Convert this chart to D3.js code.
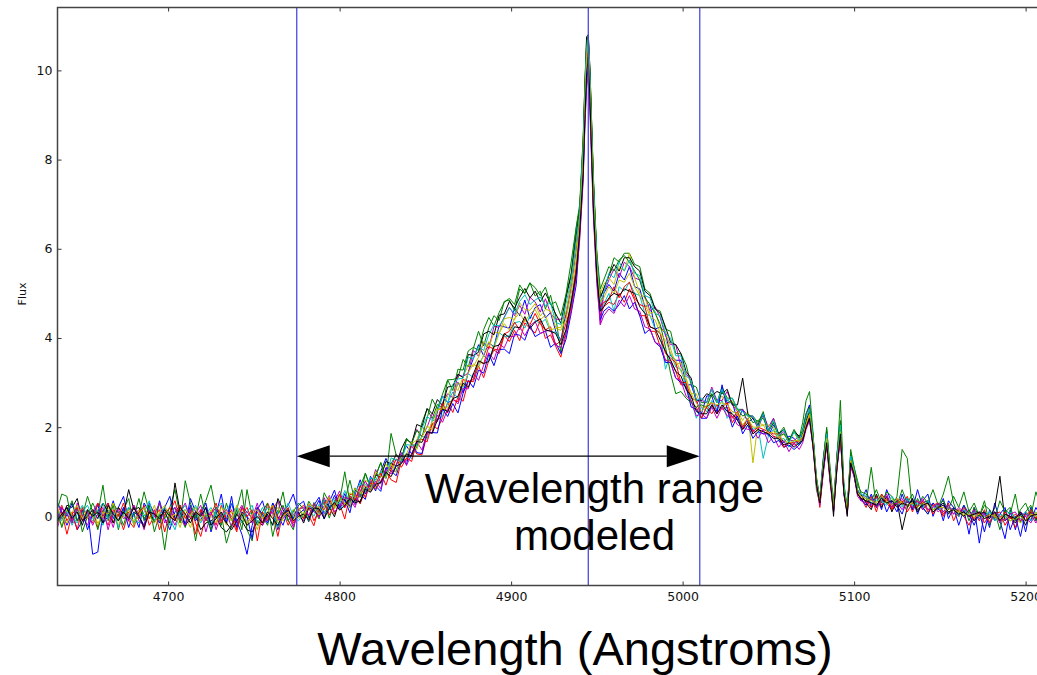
<!DOCTYPE html>
<html>
<head>
<meta charset="utf-8">
<script src="https://cdn.jsdelivr.net/npm/d3@7"></script>
<style>
  html, body { margin: 0; padding: 0; background: #ffffff; }
  svg { display: block; }
</style>
</head>
<body>
<svg id="chart" width="1037" height="675"></svg>
<script>
// Sample wavelengths (Angstroms) shared by every spectrum
const wavelengths = [
  4635,4638,4641,4644,4647,4650,4653,4656,4659,4662,4665,4668,4671,4674,4677,4680,4683,4686,4689,4692,
  4695,4698,4701,4704,4707,4710,4713,4716,4719,4722,4725,4728,4731,4734,4737,4740,4743,4746,4749,4752,
  4755,4758,4761,4764,4767,4770,4773,4776,
  4779,4782,4785,4788,4791,4794,4797,4800,4803,4806,4809,4812,4815,4818,4821,4824,4827,4830,4833,4836,
  4839,4842,4845,4848,4851,4854,4857,4860,4863,4866,4869,4872,4875,4878,4881,4884,4887,4890,4893,4896,
  4899,4902,4905,4908,4911,4914,4917,4920,4923,4926,4929,4932,4935,4938,
  4940,4942,4943,4944,4945,4946,4948,4950,4952,4954,
  4957,4960,4963,4966,4969,4972,4975,4978,4981,4984,4987,4990,4993,4996,4999,5002,5005,5008,5011,5014,
  5017,5020,5023,5026,5029,5032,5035,5038,5041,5044,5047,5050,5053,5056,5059,5062,5065,5068,
  5070,5072,5074,5076,5078,5080,5082,5084,5086,5088,5090,5092,5094,5096,5098,5100,5102,5104,
  5107,5110,5113,5116,5119,5122,5125,5128,5131,5134,5137,5140,5143,5146,5149,5152,5155,5158,5161,5164,
  5167,5170,5173,5176,5179,5182,5185,5188,5191,5194,5197,5200,5203,5206,5209
];

// Individual flux spectra
const flux0 = [
  0.35,0.1,-0.2,0.05,-0.3,-0.1,0.15,-0.85,-0.8,0.1,0.3,-0.05,0.2,0.45,-0.1,0.05,-0.25,0.3,0.1,-0.15,0.35,-0.05,-0.3,0.1,0.25,-0.2,0.4,0.1,-0.1,0.2,-0.35,0.05,0.5,-0.15,0.3,-0.1,-0.4,-0.85,-0.2,0.15,0.35,-0.05,0.2,-0.3,0.1,0.25,0.5,0.05,
  0.15,-0.12,0.25,0.43,0.06,0.19,0.47,0.21,0.51,0.22,0.49,0.82,0.5,0.78,0.57,1.01,1.3,1.05,1.0,1.36,1.58,1.4,1.68,2.02,1.87,1.88,2.34,2.7,2.55,2.6,3.01,2.77,3.23,3.54,3.85,3.6,3.9,3.8,4.28,4.25,4.22,4.67,4.5,4.85,4.43,4.68,4.75,4.45,4.57,4.15,3.95,4.55,5.15,6.0,
  6.7,8.1,9.3,10.2,10.5,9.7,7.3,5.7,4.6,5.0,
  5.2,5.05,5.45,5.3,5.6,5.15,5.1,4.7,4.75,4.2,4.25,4.1,3.6,3.5,3.5,2.95,2.95,2.6,2.3,2.7,2.7,2.35,2.85,2.55,2.55,2.15,2.4,2.1,2.2,2.0,2.3,1.8,2.05,1.85,1.65,1.8,1.75,1.6,
  1.9,2.3,2.5,1.8,0.7,0.4,1.3,1.9,0.8,0.25,1.4,2.1,0.5,0.1,1.4,0.9,0.6,0.35,
  0.6,0.2,0.45,0.15,0.6,0.3,0.1,0.5,0.2,0.4,0.05,0.35,0.5,0.0,0.3,-0.1,0.35,0.2,-0.2,0.15,-0.4,0.2,-0.6,0.1,-0.25,0.3,-0.1,-0.5,0.15,-0.3,0.1,-0.35,0.2,-0.1,0.15
];
const flux1 = [
  0.1,0.5,0.45,-0.15,0.2,-0.35,0.0,0.3,0.05,0.7,-0.1,0.25,-0.3,0.15,0.4,-0.2,0.05,0.55,0.1,-0.15,0.3,-0.05,0.2,0.6,0.0,-0.25,0.15,-0.55,0.1,0.35,0.7,0.1,-0.2,0.3,-0.1,0.15,0.6,-0.3,-0.55,0.2,0.0,-0.2,0.3,0.1,0.55,-0.1,-0.3,0.2,
  -0.04,0.34,0.16,-0.06,0.53,0.31,0.19,0.49,0.34,0.81,0.33,0.67,0.96,0.65,0.9,1.2,0.85,1.86,1.37,1.24,1.72,1.65,1.54,2.1,2.41,2.19,2.51,2.44,3.06,3.07,3.1,3.52,3.35,3.77,4.15,3.82,4.23,4.5,4.39,4.82,4.85,4.61,5.1,5.0,5.24,4.94,5.05,4.65,4.96,4.48,3.67,4.95,5.45,6.48,
  6.9,8.3,9.5,10.5,10.7,9.9,7.5,5.8,4.9,5.1,
  5.4,5.8,5.7,5.9,5.9,5.65,5.6,5.1,5.0,4.65,4.6,4.2,4.15,3.65,3.65,3.4,2.95,2.9,2.55,2.55,2.85,2.55,2.9,2.65,2.65,2.4,2.4,2.25,2.25,2.1,2.35,1.9,2.2,1.85,2.0,1.7,1.95,1.75,
  2.1,2.6,2.8,1.9,0.6,0.3,1.2,2.0,1.0,0.15,1.3,2.6,0.7,0.1,1.5,1.1,0.8,0.5,
  0.3,1.1,0.2,0.5,0.35,0.2,0.45,1.5,1.3,0.15,0.4,0.2,0.05,0.3,0.2,0.5,0.9,0.3,0.0,0.25,-0.1,0.2,0.0,0.35,-0.2,0.1,-0.3,0.15,0.05,0.5,-0.15,0.1,0.25,-0.1,0.3
];
const flux2 = [
  -0.2,0.1,-0.4,0.05,0.2,-0.1,0.0,0.15,-0.25,0.1,0.3,-0.15,0.05,-0.3,0.1,0.2,-0.05,0.25,-0.2,0.0,0.15,-0.35,0.1,0.35,-0.1,0.05,0.2,-0.15,-0.45,0.0,0.1,-0.2,0.25,-0.05,0.15,-0.3,0.05,0.2,-0.1,0.1,-0.15,0.3,0.05,-0.45,0.1,-0.2,0.05,0.15,
  0.25,0.02,-0.21,0.22,0.15,0.42,0.05,0.29,-0.06,0.49,0.5,0.28,0.6,0.83,0.61,0.79,1.02,0.82,0.76,1.26,1.27,1.58,1.4,1.38,1.82,2.06,1.96,2.21,2.55,2.33,2.68,2.58,3.03,3.02,3.37,3.11,3.5,3.73,3.65,4.06,3.92,4.17,3.94,4.34,4.21,4.11,4.39,3.99,4.07,3.81,3.57,4.09,4.7,5.39,
  6.4,7.8,9.0,10.1,10.5,9.4,7.0,5.4,4.5,4.7,
  4.8,4.75,5.0,4.8,5.1,4.85,4.5,4.5,4.15,4.15,3.8,3.5,3.5,3.25,2.95,2.95,2.55,2.45,2.2,2.45,2.3,2.5,2.4,2.45,2.1,2.3,1.95,2.2,1.85,1.95,1.85,1.9,1.8,1.75,1.55,1.65,1.6,1.65,
  1.7,2.0,2.2,1.6,0.75,0.2,1.0,1.6,0.8,0.25,1.1,1.8,0.55,0.2,1.2,0.95,0.5,0.4,
  0.2,0.45,0.1,0.5,0.3,0.15,0.4,0.25,0.45,0.1,0.35,0.15,0.3,0.05,0.25,0.0,0.3,-0.1,0.15,0.0,-0.2,0.1,-0.1,0.15,-0.15,0.05,0.1,-0.2,0.0,-0.25,0.05,-0.1,0.15,0.0,-0.1
];
const flux3 = [
  0.1,-0.1,0.2,0.0,-0.15,0.1,0.25,-0.05,0.05,-0.2,0.15,0.0,-0.1,0.2,0.05,-0.15,0.1,0.0,0.2,-0.1,0.05,0.15,-0.2,0.0,0.1,0.25,-0.05,0.1,-0.15,0.05,0.2,0.0,-0.1,0.15,0.3,0.05,-0.15,0.0,0.1,-0.05,0.2,0.0,-0.2,0.1,0.05,-0.1,0.15,0.0,
  0.05,0.18,0.0,0.27,0.1,0.23,0.41,0.15,0.3,0.46,0.27,0.55,0.73,0.6,0.84,0.73,0.96,1.21,1.05,1.21,1.42,1.29,1.61,1.8,1.74,2.15,2.15,2.25,2.55,2.79,2.65,2.9,3.2,3.11,3.41,3.6,3.5,3.84,4.12,4.03,4.05,4.34,4.37,4.22,4.5,4.4,4.32,4.42,4.14,4.13,3.93,4.17,4.85,5.57,
  6.5,7.9,9.1,10.1,10.4,9.5,7.1,5.5,4.6,4.75,
  5.0,4.6,5.15,5.05,5.25,5.0,4.95,4.55,4.5,4.2,4.1,3.3,3.65,3.35,3.3,2.9,2.6,2.2,2.45,2.35,2.6,2.4,2.6,2.2,2.35,2.3,2.0,2.2,1.95,2.0,1.3,1.8,1.95,1.7,1.75,1.55,1.7,1.6,
  1.75,2.05,2.2,1.65,0.85,0.4,1.05,1.7,0.95,0.25,1.15,1.9,0.65,0.2,1.2,1.0,0.55,0.45,
  0.4,0.3,0.35,0.4,0.3,0.35,0.3,0.25,0.35,0.2,0.3,0.25,0.15,0.25,0.15,0.2,0.1,0.15,0.05,0.1,0.0,0.05,-0.05,0.1,0.0,-0.05,0.05,0.0,-0.1,0.0,-0.05,0.05,0.0,0.1,0.0
];
const flux4 = [
  -0.3,0.05,0.2,-0.1,0.15,0.0,-0.2,0.1,0.3,-0.05,0.1,-0.25,0.2,0.0,-0.1,0.25,0.05,-0.3,0.15,0.0,-0.1,0.2,0.05,-0.2,0.1,0.3,-0.05,0.0,0.15,-0.35,0.05,0.2,-0.1,0.1,-0.25,0.05,0.25,0.0,-0.15,0.2,0.05,-0.1,0.15,0.35,-0.05,0.1,-0.2,0.05,
  -0.1,0.28,0.1,0.04,0.42,0.15,0.33,0.57,0.22,0.43,0.26,0.69,0.67,0.66,1.05,0.74,1.09,1.09,1.4,1.21,1.24,1.66,1.95,1.79,2.0,2.31,2.13,2.55,2.75,2.66,3.17,3.14,3.21,3.72,3.59,3.9,3.75,4.26,4.24,4.47,4.69,4.5,4.73,4.53,4.91,4.81,4.58,4.88,4.55,4.42,4.42,4.48,5.2,6.13,
  6.8,8.2,9.4,10.4,10.7,9.8,7.3,5.7,4.3,5.0,
  5.3,5.55,5.35,5.7,5.6,5.35,5.3,4.95,4.6,4.7,4.45,4.05,3.85,3.85,3.35,3.2,3.05,2.55,2.6,2.55,2.9,2.6,2.6,2.8,2.5,2.35,2.4,2.25,2.25,1.95,2.3,2.0,2.2,1.8,1.9,1.7,1.7,1.8,
  1.85,2.2,2.4,1.75,0.75,0.3,1.15,1.85,0.85,0.2,1.25,2.0,0.6,0.1,1.3,1.05,0.6,0.4,
  0.45,0.25,0.4,0.3,0.5,0.2,0.35,0.4,0.2,0.3,0.35,0.15,0.3,0.25,0.1,0.2,0.25,0.05,0.15,0.1,0.0,-0.1,0.1,0.05,-0.05,0.1,-0.15,0.05,0.0,-0.1,0.1,0.0,-0.15,0.05,0.1
];
const flux5 = [
  0.0,-0.2,0.15,0.05,-0.1,0.2,-0.05,0.1,-0.15,0.0,0.2,0.05,-0.2,0.1,0.0,-0.1,0.15,0.05,-0.05,0.25,-0.15,0.0,0.1,-0.1,0.2,0.0,-0.25,0.1,0.05,-0.1,0.15,-0.05,0.05,-0.2,0.1,0.0,0.2,-0.15,0.0,-0.3,0.1,-0.05,0.05,0.2,-0.1,0.0,0.15,-0.05,
  0.1,-0.02,0.3,0.18,0.01,0.29,0.22,0.47,0.27,0.53,0.45,0.43,0.81,0.74,0.64,0.98,1.17,1.02,1.27,1.29,1.26,1.63,1.71,2.01,1.86,2.12,2.43,2.4,2.7,2.95,2.82,3.13,3.39,3.36,3.57,3.92,3.78,4.13,4.11,4.43,4.46,4.41,4.79,4.64,4.62,4.77,4.49,4.64,4.61,4.24,4.23,4.59,5.2,6.07,
  6.9,8.4,9.6,10.6,10.75,9.8,7.4,5.8,5.0,5.2,
  5.35,5.2,5.6,5.5,5.9,5.35,5.0,4.9,4.55,4.6,4.2,4.15,3.75,3.4,3.45,3.1,2.75,2.75,2.45,2.45,2.75,2.55,2.7,2.5,2.6,2.35,2.15,2.35,1.2,2.1,2.05,2.05,2.0,1.75,1.85,1.65,1.9,1.65,
  1.8,2.1,2.35,1.75,0.8,0.3,1.1,1.8,0.9,0.2,1.2,1.95,0.6,0.15,1.25,1.0,0.5,0.45,
  0.35,0.4,0.25,0.35,0.3,0.4,0.25,0.35,0.2,0.3,0.25,0.3,0.15,0.25,0.2,0.1,0.2,0.05,0.15,0.0,0.1,-0.05,0.05,0.0,-0.1,0.05,0.0,-0.05,-0.1,0.0,-0.15,0.05,-0.05,0.1,-0.2
];
const flux6 = [
  0.1,-0.05,0.25,0.2,0.4,-0.1,0.0,0.15,-0.05,0.3,0.1,-0.15,0.2,0.05,0.6,0.15,0.2,-0.05,0.1,-0.1,0.0,0.1,-0.15,0.75,0.1,-0.2,-0.05,0.05,-0.3,-0.15,-0.1,0.0,-0.25,-0.35,-0.2,0.05,-0.1,-0.3,-0.35,-0.1,-0.2,0.05,-0.2,0.4,0.15,0.0,-0.05,0.1,
  -0.15,0.19,0.16,-0.01,0.37,0.21,-0.01,0.38,0.38,0.2,0.38,0.31,0.65,0.58,0.93,0.88,1.23,1.18,1.14,1.51,1.74,1.62,2.06,2.01,2.42,2.3,2.62,2.49,2.9,2.92,3.19,3.11,3.63,3.61,3.68,4.09,4.15,4.07,4.51,4.54,4.82,4.67,4.91,5.11,4.9,5.05,4.81,5.01,4.77,4.54,4.33,4.91,5.4,6.31,
  6.9,8.4,9.7,10.75,10.8,10.0,7.5,5.8,4.9,5.1,
  5.4,5.65,5.5,5.8,5.8,5.6,5.5,5.05,4.95,4.65,4.55,4.25,3.9,3.85,3.65,3.25,3.1,2.6,2.6,2.75,2.7,2.8,2.75,2.85,2.5,2.5,3.1,2.3,2.2,2.05,2.3,1.9,2.1,1.85,1.95,1.7,1.9,1.8,
  1.85,2.15,2.35,1.8,0.85,0.3,1.1,1.8,0.95,0.0,1.2,1.95,0.65,0.0,1.3,1.05,0.55,0.5,
  0.3,0.15,0.5,0.2,0.45,0.1,0.35,-0.3,0.2,0.4,0.1,0.3,0.35,0.15,0.2,0.3,0.05,0.2,0.1,0.0,0.15,-0.1,0.05,0.1,-0.05,0.2,0.9,-0.1,0.0,-0.15,0.05,-0.2,0.1,-0.05,0.05
];
const flux7 = [
  -0.2,0.2,0.0,0.3,-0.1,0.15,-0.3,0.05,0.25,-0.15,0.0,0.35,-0.1,0.2,-0.25,0.1,0.0,-0.2,0.3,0.05,-0.15,0.2,0.45,-0.05,0.1,-0.2,0.25,-0.1,0.05,0.3,-0.2,0.15,0.0,-0.15,0.45,-0.25,0.1,0.0,-0.5,0.2,0.05,-0.15,0.3,0.0,-0.2,0.15,-0.05,0.25,
  0.34,-0.03,0.14,0.36,-0.06,0.32,0.59,0.18,0.37,0.08,0.59,0.51,0.38,0.9,0.68,0.56,1.09,1.02,0.91,1.31,1.16,1.67,1.43,1.41,1.89,1.88,1.87,2.41,2.24,2.53,2.32,2.76,3.05,2.89,3.28,3.21,3.64,3.38,3.74,3.75,3.65,4.09,4.06,3.95,4.28,4.03,4.1,4.16,3.79,3.89,3.65,3.97,4.55,5.2,
  6.3,7.6,8.8,9.7,10.1,9.2,6.8,5.3,4.4,4.6,
  4.7,4.6,4.75,4.95,4.65,4.8,4.5,4.1,4.2,3.9,3.8,3.45,3.45,3.1,3.0,2.9,2.45,2.4,2.2,2.2,2.5,2.3,2.95,2.4,2.0,2.25,1.85,2.05,1.75,1.9,1.85,1.85,1.65,1.7,1.55,1.6,1.5,1.6,
  1.7,2.0,2.2,1.6,0.8,0.4,1.0,1.65,0.85,0.2,1.1,1.8,0.6,0.2,1.15,0.9,0.5,0.4,
  0.25,0.5,0.2,0.45,0.1,0.35,0.25,0.05,0.4,0.15,0.6,0.2,0.05,0.3,0.15,0.4,-0.05,0.2,0.0,0.25,0.05,-0.2,0.1,-0.35,0.15,-0.1,0.05,0.2,-0.3,0.0,-0.45,0.1,-0.1,0.2,0.0
];
const flux8 = [
  0.2,-0.25,0.1,0.35,-0.1,0.0,0.45,0.1,-0.3,0.15,-0.05,0.3,0.1,-0.2,0.2,0.0,0.4,-0.1,0.25,-0.35,0.05,-0.75,0.1,0.2,-0.15,0.8,0.3,-0.05,0.5,0.0,-0.3,0.2,0.05,-0.6,-0.2,0.15,-0.3,0.6,0.0,-0.2,0.1,0.3,-0.45,0.05,0.25,-0.1,0.1,0.3,
  0.16,-0.11,0.31,0.1,0.33,-0.04,0.35,0.34,1.0,0.31,0.64,0.43,0.97,0.66,0.91,1.21,0.86,1.18,1.39,1.26,1.75,1.63,1.93,1.78,2.2,2.63,2.41,2.74,3.06,2.82,3.3,3.28,3.71,3.79,3.72,4.19,4.46,4.27,4.57,4.8,4.89,4.75,5.19,5.0,5.23,5.13,4.95,5.14,4.75,4.81,4.5,4.98,5.7,6.5,
  7.0,8.5,9.7,10.6,10.8,10.0,7.6,5.9,5.1,5.3,
  5.6,5.5,5.75,5.85,5.7,5.5,5.3,4.9,4.75,4.55,4.3,3.8,3.2,2.75,2.8,2.65,2.55,2.45,2.5,2.45,2.75,2.55,2.8,2.6,2.55,2.4,2.25,2.3,2.1,2.15,2.2,1.95,2.1,1.8,1.85,1.7,1.9,1.75,
  1.95,2.3,2.45,1.85,0.9,0.4,1.25,1.95,1.1,0.3,1.35,2.15,0.75,0.2,1.4,1.1,0.7,0.55,
  0.5,0.35,0.6,0.3,0.55,0.45,0.25,0.6,0.3,0.5,0.2,0.45,0.3,0.6,0.25,0.35,0.15,0.45,0.2,0.55,0.1,0.3,0.0,0.25,0.15,-0.05,0.35,0.1,0.2,-0.1,0.15,0.3,0.0,0.55,0.2
];
const flux9 = [
  0.05,0.25,-0.1,0.1,-0.3,0.2,0.0,-0.15,0.3,0.05,-0.2,0.15,0.0,0.3,-0.1,-0.25,0.1,0.2,-0.05,0.15,-0.3,0.05,0.2,-0.1,0.25,-0.05,0.1,-0.4,0.15,-0.1,0.05,0.3,-0.15,0.1,-0.05,-0.35,0.2,0.0,0.15,-0.55,0.1,-0.1,0.25,-0.05,0.0,0.2,-0.15,0.05,
  -0.05,0.23,-0.1,0.12,0.35,0.03,0.26,0.5,0.19,0.45,0.37,0.69,0.42,0.75,0.73,0.97,0.7,1.05,1.29,1.1,1.31,1.23,1.7,1.73,1.67,2.08,2.13,2.53,2.32,2.62,2.57,3.07,3.02,3.07,3.48,3.42,3.81,3.75,3.73,4.09,4.15,4.35,4.18,4.42,4.3,4.55,4.32,4.18,4.25,3.84,3.94,4.33,4.7,5.61,
  6.5,7.9,9.1,10.2,10.5,9.5,7.1,5.5,4.7,4.8,
  4.85,5.15,4.9,5.15,5.25,4.9,4.75,4.7,4.25,4.2,4.1,3.65,3.55,3.45,3.0,3.0,2.65,2.6,2.2,2.45,2.55,2.3,2.45,2.55,2.2,2.35,2.0,2.2,1.9,2.0,1.95,1.9,1.85,1.85,1.55,1.65,1.65,1.7,
  1.75,2.05,2.25,1.65,0.8,0.3,1.05,1.7,0.9,0.15,1.2,1.9,0.55,0.1,1.25,1.0,0.5,0.4,
  0.35,0.2,0.45,0.25,0.4,0.15,0.3,0.35,0.1,0.3,0.2,0.35,0.1,0.25,0.3,0.05,0.2,0.15,0.0,0.2,0.05,-0.05,0.1,-0.15,0.05,0.0,-0.1,0.1,-0.05,0.05,-0.1,0.05,0.1,-0.05,0.1
];
const flux10 = [
  0.15,-0.05,0.1,-0.2,0.05,0.25,0.0,-0.1,0.15,0.3,-0.05,0.1,-0.25,0.05,0.2,0.0,-0.15,0.1,0.35,-0.1,0.05,0.2,-0.05,-0.3,0.1,0.15,0.0,0.25,-0.1,0.05,-0.2,0.15,0.3,0.0,-0.1,0.2,-0.05,0.1,0.25,-0.15,0.0,0.2,0.1,-0.25,0.05,0.3,0.0,-0.1,
  0.05,0.23,0.16,0.04,0.37,0.15,0.33,0.28,0.58,0.29,0.52,0.75,0.54,0.87,0.82,1.01,0.86,1.31,1.27,1.24,1.61,1.59,1.63,1.98,2.24,2.15,2.37,2.69,2.55,2.96,3.08,3.1,3.57,3.54,3.81,3.72,4.08,4.29,4.27,4.45,4.68,4.54,4.82,4.97,4.75,4.85,4.92,4.72,4.79,4.35,4.3,4.77,5.3,6.2,
  6.8,8.3,9.5,10.5,10.7,9.8,7.4,5.8,4.8,5.0,
  5.45,5.35,5.7,5.5,5.75,5.45,5.4,4.95,4.9,4.55,4.5,4.1,4.0,3.6,3.6,3.15,3.05,2.6,2.65,2.55,2.85,2.55,2.85,2.6,2.65,2.4,2.35,2.25,2.25,2.0,2.3,1.9,2.15,1.8,1.95,1.65,1.9,1.7,
  1.9,2.2,2.4,1.8,0.85,0.35,1.15,1.85,0.95,0.2,1.3,2.05,0.7,0.15,1.35,1.05,0.6,0.5,
  0.45,0.3,0.4,0.35,0.25,0.45,0.3,0.2,0.4,0.25,0.3,0.2,0.35,0.15,0.25,0.1,0.2,0.15,0.0,0.15,0.05,0.1,-0.05,0.0,0.1,-0.1,0.05,0.0,0.1,-0.05,0.0,0.1,-0.1,0.05,0.0
];
const flux11 = [
  -0.1,0.2,0.05,-0.15,0.3,0.0,0.1,-0.2,0.05,0.2,-0.3,0.1,0.15,-0.05,0.0,0.25,-0.1,-0.2,0.1,0.05,0.3,-0.15,0.0,0.2,-0.05,-0.2,0.15,0.05,0.25,-0.1,0.1,-0.3,0.05,0.15,0.0,-0.15,0.2,0.1,-0.05,0.3,-0.2,0.0,0.1,-0.1,0.2,0.05,-0.25,0.15,
  0.2,0.02,0.29,-0.03,0.24,0.47,0.1,0.23,0.43,0.38,0.2,0.57,0.79,0.56,0.79,0.62,1.06,0.95,1.14,1.43,1.14,1.4,1.67,1.49,1.88,1.87,2.27,2.11,2.4,2.63,2.52,2.87,2.86,3.21,3.05,3.39,3.67,3.51,3.87,3.78,4.04,4.03,4.25,4.05,4.27,4.37,4.1,4.15,4.18,3.83,3.79,4.1,4.6,5.37,
  6.2,7.5,8.7,9.6,9.9,9.0,6.7,5.2,4.3,4.5,
  4.65,4.55,4.85,4.7,4.95,4.65,4.6,4.25,4.2,3.9,3.85,3.5,3.45,3.1,3.05,2.7,2.6,2.25,2.3,2.2,2.45,2.2,2.45,2.25,2.25,2.05,2.0,1.95,1.95,1.75,1.95,1.65,1.8,1.55,1.7,1.45,1.65,1.5,
  1.65,1.95,2.15,1.55,0.7,0.25,0.95,1.6,0.75,0.1,1.05,1.75,0.5,0.05,1.1,0.9,0.45,0.35,
  0.3,0.4,0.2,0.35,0.45,0.25,0.3,0.15,0.35,0.2,0.25,0.4,0.15,0.2,0.3,0.1,0.25,0.05,0.2,0.1,0.0,0.15,-0.05,0.05,-0.15,0.1,0.0,-0.1,0.05,0.1,-0.1,0.0,0.05,-0.15,0.05
];
const flux12 = [
  0.2,0.0,-0.15,0.1,0.25,-0.05,0.15,0.0,-0.2,0.1,0.05,0.3,-0.1,0.0,0.15,-0.2,0.05,0.2,0.0,-0.15,0.1,0.25,-0.05,0.05,-0.25,0.15,0.0,0.2,-0.1,0.05,0.0,-0.15,0.2,0.1,-0.1,0.25,0.0,-0.2,0.05,0.15,-0.05,0.1,0.25,-0.15,0.0,0.1,-0.1,0.2,
  0.0,0.28,0.2,0.03,0.21,0.44,0.17,0.4,0.3,0.21,0.63,0.51,0.69,0.57,1.0,0.89,0.88,1.18,0.98,1.33,1.4,1.67,1.5,1.78,2.03,1.94,2.4,2.4,2.45,2.65,3.0,2.91,3.22,3.42,3.33,3.63,3.92,3.77,4.1,4.32,4.18,4.43,4.56,4.36,4.54,4.64,4.41,4.51,4.18,4.22,4.17,4.41,5.0,5.78,
  6.6,8.0,9.2,10.3,10.6,9.6,7.2,5.6,4.8,4.9,
  5.15,5.0,5.3,5.25,5.45,5.15,4.95,4.75,4.5,4.4,4.1,3.95,3.65,3.5,3.25,3.05,2.75,2.55,2.35,2.5,2.55,2.5,2.55,2.5,2.35,2.3,2.05,2.2,2.0,2.0,2.05,1.85,1.9,1.8,1.7,1.65,1.7,1.7,
  1.8,2.05,2.3,1.7,0.8,0.35,1.1,1.75,0.9,0.2,1.2,1.9,0.6,0.15,1.25,1.0,0.55,0.45,
  0.4,0.35,0.3,0.45,0.35,0.25,0.4,0.3,0.25,0.3,0.2,0.3,0.25,0.15,0.2,0.2,0.1,0.15,0.1,0.05,0.05,0.0,0.05,-0.05,0.05,0.0,-0.05,0.05,-0.1,-0.05,0.0,-0.1,0.05,0.0,0.05
];
const flux13 = [
  -0.1,0.05,0.2,-0.05,0.1,-0.2,0.15,0.0,0.1,-0.15,0.25,0.05,-0.1,0.1,-0.05,0.2,0.0,-0.25,0.1,0.05,-0.05,0.15,0.0,-0.1,0.2,0.05,-0.15,0.1,0.0,0.2,-0.2,-0.05,0.1,-0.15,-0.3,-0.1,0.05,-0.2,-0.1,0.0,-0.15,0.1,-0.05,-0.2,0.05,0.15,-0.1,0.0,
  0.05,-0.07,0.19,0.17,-0.05,0.18,0.31,0.14,0.24,0.4,0.31,0.34,0.61,0.54,0.72,0.76,0.99,0.89,1.13,1.18,1.4,1.36,1.68,1.66,1.9,1.86,2.16,2.41,2.35,2.64,2.69,2.99,2.89,3.19,3.49,3.43,3.47,3.81,3.84,4.1,4.01,4.25,4.23,4.48,4.21,4.36,4.43,4.18,4.15,4.1,3.85,4.18,4.8,5.45,
  6.4,7.7,8.9,9.9,10.3,9.3,6.9,5.4,4.6,4.7,
  4.9,5.0,4.95,5.1,5.05,5.0,4.7,4.55,4.25,4.2,3.95,3.7,3.5,3.25,3.15,2.85,2.7,2.35,2.3,2.3,2.5,2.3,2.5,2.35,2.3,2.15,1.95,2.1,1.85,1.95,1.9,1.85,1.75,1.75,1.6,1.65,1.55,1.65,
  1.7,2.0,2.2,1.6,0.75,0.3,1.05,1.65,0.85,0.1,1.1,1.85,0.55,0.05,1.2,0.95,0.5,0.4,
  0.35,0.3,0.25,0.4,0.3,0.35,0.2,0.3,0.25,0.35,0.15,0.25,0.3,0.1,0.2,0.25,0.1,0.15,0.05,0.1,0.0,0.05,0.1,-0.05,0.0,0.1,-0.1,0.05,0.0,-0.05,0.1,-0.1,0.0,0.05,-0.05
];

const spectra = [flux0, flux1, flux2, flux3, flux4, flux5, flux6, flux7, flux8, flux9, flux10, flux11, flux12, flux13];
const spectrumColors = ["#0000ff","#008000","#ff0000","#00bfbf","#bf00bf","#bfbf00","#000000",
                        "#0000ff","#008000","#ff0000","#00bfbf","#bf00bf","#bfbf00","#000000"];

// Axis ticks, marker wavelengths, annotation
const xTicks = [4700, 4800, 4900, 5000, 5100, 5200];
const yTicks = [0, 2, 4, 6, 8, 10];
const markerLines = [4775, 4945, 5010];
const rangeArrow = { from: 4775, to: 5010, level: 1.35 };

spectra.forEach((s, i) => {
  if (s.length !== wavelengths.length) throw new Error("spectrum " + i + " has " + s.length + " values, expected " + wavelengths.length);
});

const svg = d3.select("#chart");
const plotLeft = 57.5, plotTop = 7.5, plotBottom = 585.5;
const x = d3.scaleLinear().domain([4635.5, 5215]).range([plotLeft, plotLeft + (5215 - 4635.5) * 1.715]);
const y = d3.scaleLinear().domain([-1.55, 11.41]).range([plotBottom, plotTop]);

svg.append("rect").attr("width", 1037).attr("height", 675).attr("fill", "#ffffff");

svg.append("defs").append("clipPath").attr("id", "plotClip")
  .append("rect").attr("x", plotLeft).attr("y", plotTop).attr("width", 1100).attr("height", plotBottom - plotTop);

const plot = svg.append("g").attr("clip-path", "url(#plotClip)");

const line = d3.line()
  .x((d, i) => x(wavelengths[i]))
  .y(d => y(d));

spectra.forEach((s, i) => {
  plot.append("path")
    .attr("d", line(s))
    .attr("fill", "none")
    .attr("stroke", spectrumColors[i])
    .attr("stroke-width", 1)
    .attr("stroke-linejoin", "round");
});

// Vertical markers
plot.selectAll("line.marker").data(markerLines).enter().append("line")
  .attr("class", "marker")
  .attr("x1", d => x(d)).attr("x2", d => x(d))
  .attr("y1", plotTop).attr("y2", plotBottom)
  .attr("stroke", "#4b4be0")
  .attr("stroke-width", 1.3);

// Double-headed arrow spanning the modelled range
const ax0 = x(rangeArrow.from), ax1 = x(rangeArrow.to), ay = y(rangeArrow.level);
const headLen = 33, headHalf = 11;
svg.append("line")
  .attr("x1", ax0 + headLen).attr("x2", ax1 - headLen)
  .attr("y1", ay).attr("y2", ay)
  .attr("stroke", "#000").attr("stroke-width", 1.2);
svg.append("polygon")
  .attr("points", [[ax0, ay], [ax0 + headLen, ay - headHalf], [ax0 + headLen, ay + headHalf]].map(p => p.join(",")).join(" "))
  .attr("fill", "#000");
svg.append("polygon")
  .attr("points", [[ax1, ay], [ax1 - headLen, ay - headHalf], [ax1 - headLen, ay + headHalf]].map(p => p.join(",")).join(" "))
  .attr("fill", "#000");

const bigFont = "'Liberation Sans', Arial, sans-serif";
const annot = svg.append("text")
  .attr("text-anchor", "middle")
  .attr("font-family", bigFont)
  .attr("font-size", 42)
  .attr("fill", "#000");
annot.append("tspan").attr("x", 594.5).attr("y", 503).text("Wavelength range");
annot.append("tspan").attr("x", 594.5).attr("y", 550).text("modeled");

svg.append("text")
  .attr("x", 575).attr("y", 665)
  .attr("text-anchor", "middle")
  .attr("font-family", bigFont)
  .attr("font-size", 47)
  .attr("fill", "#000")
  .text("Wavelength (Angstroms)");

// Axes with inward ticks
const tickFont = "'DejaVu Sans', sans-serif";
const gx = svg.append("g").attr("transform", `translate(0,${plotBottom})`)
  .call(d3.axisBottom(x).tickValues(xTicks).tickSize(-4).tickPadding(7).tickFormat(d3.format("d")));
const gt = svg.append("g").attr("transform", `translate(0,${plotTop})`)
  .call(d3.axisTop(x).tickValues(xTicks).tickSize(-4).tickFormat(""));
const gy = svg.append("g").attr("transform", `translate(${plotLeft},0)`)
  .call(d3.axisLeft(y).tickValues(yTicks).tickSize(-4).tickPadding(5).tickFormat(d3.format("d")));

[gx, gt, gy].forEach(g => {
  g.select(".domain").remove();
  g.attr("color", "#333").attr("font-family", tickFont).attr("font-size", 12.5);
  g.selectAll("text").attr("fill", "#111");
});

// Frame
svg.append("rect")
  .attr("x", plotLeft).attr("y", plotTop)
  .attr("width", 1100).attr("height", plotBottom - plotTop)
  .attr("fill", "none")
  .attr("stroke", "#444")
  .attr("stroke-width", 1.5);

svg.append("text")
  .attr("transform", "translate(22.5,294) rotate(-90)")
  .attr("text-anchor", "middle")
  .attr("dominant-baseline", "middle")
  .attr("font-family", tickFont)
  .attr("font-size", 11)
  .attr("fill", "#111")
  .text("Flux");
</script>
</body>
</html>
